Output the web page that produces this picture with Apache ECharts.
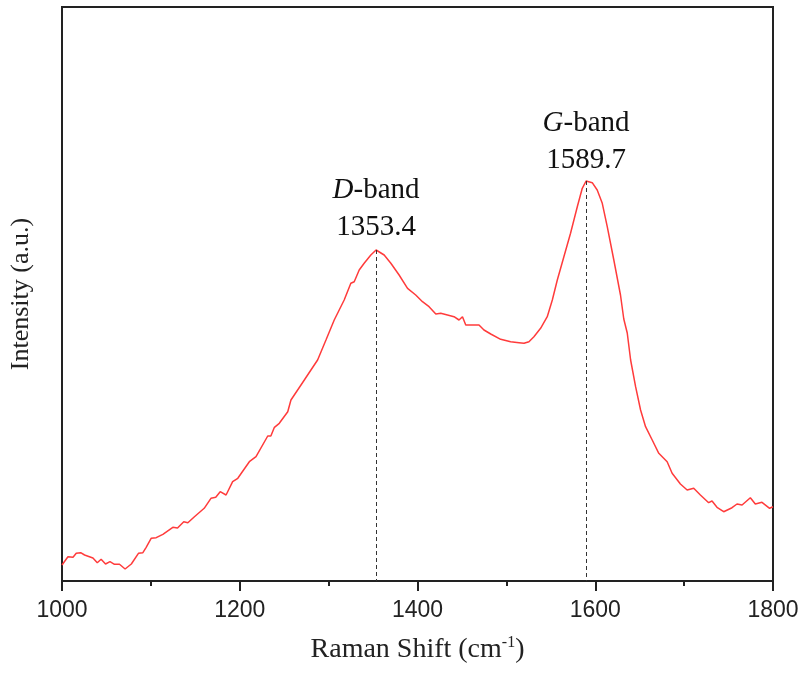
<!DOCTYPE html>
<html>
<head>
<meta charset="utf-8">
<script src="https://cdn.jsdelivr.net/npm/echarts@6/dist/echarts.min.js"></script>
<style>
html,body{margin:0;padding:0;background:#fff;}
#chart{width:804px;height:677px;}
</style>
</head>
<body>
<div id="chart"></div>
<script>
// Raman shift (cm^-1) and intensity (a.u.)
var ramanShift = [1000,1006.7,1012.4,1016,1021,1025.4,1034.8,1039.7,1044,1049,1054,1059,1064.7,1071,1078,1086,1091,1094.7,1100.3,1106,1113.5,1124.7,1130,1137,1141.6,1149,1160,1167.6,1173,1178,1184.6,1192,1197.8,1210.8,1218.3,1231.5,1235,1239,1244.5,1254,1257.6,1268.9,1280.1,1287.6,1297,1306.3,1317.5,1325,1328.8,1334.4,1340,1347.5,1353.4,1362.5,1370,1379.3,1388.8,1398,1405.6,1413,1420.6,1426.2,1433.7,1441.1,1446.7,1450.6,1454.3,1463.6,1469.2,1474.8,1482.4,1493.6,1504.8,1514.2,1519.8,1525.4,1531,1538.5,1546,1551.7,1557.3,1564.7,1572.2,1579.8,1585.4,1589.7,1596.6,1602.2,1607.9,1613.5,1620.9,1628.4,1632.1,1636,1639.8,1645.4,1651,1656.6,1664.1,1671.5,1680.9,1686.5,1695.8,1703.4,1710.8,1718.3,1727.6,1731.4,1737,1744.5,1753.9,1759.5,1765.2,1774.5,1780.1,1787.6,1796.2,1800];
var intensity = [16,24.3,23.7,27.7,28.3,26,23,18.3,21.7,17,19.3,16.7,16.7,12,17,27.7,28.3,33.7,42.7,43.3,46.7,53.7,53,59.3,58.3,64.3,72.7,82.7,83.7,89.3,86,99.3,102.7,119.3,124.3,145,145,153.7,157.7,169.3,181,196,211,221,241,261,281,297.7,299.3,311,317.7,326,331,326,317.7,306,292.7,286,279.3,274.3,267,267.7,266,264.3,261,264.3,256,256,256,251,247,241.7,239.3,238.3,237.7,239.3,244.3,252.7,264.3,281,301,324.3,347.7,374.3,392.7,400,398.3,391,377.7,354.3,321,286,262,248,221,194.3,171,154.3,141,127.7,119.3,107.7,97,91,92.7,86,78.3,80,73.7,69.3,73.3,77,76,83.3,77,78.7,72.7,74.3];
var peakNames = ['D', 'G'];
var peakShift = [1353.4, 1589.7];
var peakIntensity = [331, 400];
var xTicks = {min: 1000, max: 1800, interval: 200};
var xTitle = 'Raman Shift (cm';
var yTitle = 'Intensity (a.u.)';

var seriesData = ramanShift.map(function (x, i) { return [x, intensity[i]]; });
var serif = '"Liberation Serif", "Times New Roman", serif';
var sans = '"Liberation Sans", Arial, sans-serif';

var markPoints = peakNames.map(function (n, i) {
  return {
    coord: [peakShift[i], peakIntensity[i]],
    label: {
      formatter: '{i|' + n + '}{t|-band}\n{t|' + peakShift[i].toFixed(1) + '}',
      offset: [0, i === 0 ? 1 : 3]
    }
  };
});
var markLines = peakShift.map(function (x, i) {
  return [{coord: [x, peakIntensity[i]]}, {coord: [x, 0]}];
});

var chart = echarts.init(document.getElementById('chart'), null, {renderer: 'canvas'});
chart.setOption({
  animation: false,
  backgroundColor: '#ffffff',
  grid: {left: 60, right: 31, top: 7, bottom: 96, show: true, borderColor: '#222', borderWidth: 2, containLabel: false},
  xAxis: {
    type: 'value', min: xTicks.min, max: xTicks.max, interval: xTicks.interval,
    axisLine: {show: true, lineStyle: {color: '#222', width: 2}},
    axisTick: {show: true, inside: false, length: 10, lineStyle: {color: '#222', width: 2}},
    minorTick: {show: true, splitNumber: 2, length: 5, lineStyle: {color: '#222', width: 2}},
    splitLine: {show: false},
    axisLabel: {color: '#222', fontFamily: sans, fontSize: 23, margin: 18, formatter: function (v) { return String(v); }},
    name: xTitle + '{sup|-1})', nameLocation: 'middle', nameGap: 54,
    nameTextStyle: {color: '#222', fontFamily: serif, fontSize: 28,
      rich: {sup: {fontFamily: serif, fontSize: 16, verticalAlign: 'top', padding: [0, 0, 14, 0], color: '#222'}}}
  },
  yAxis: {
    type: 'value', min: 0, max: 574,
    axisLine: {show: true, lineStyle: {color: '#222', width: 2}},
    axisTick: {show: false}, axisLabel: {show: false}, splitLine: {show: false},
    name: yTitle, nameLocation: 'middle', nameGap: 28, nameRotate: 90,
    nameTextStyle: {color: '#222', fontFamily: serif, fontSize: 26}
  },
  series: [{
    type: 'line', data: seriesData, showSymbol: false, symbol: 'none',
    lineStyle: {color: '#ff3b3b', width: 1.5},
    markLine: {
      silent: true, symbol: ['none', 'none'], label: {show: false},
      lineStyle: {color: '#333', width: 1, type: [4, 3]},
      data: markLines
    },
    markPoint: {
      silent: true, symbol: 'circle', symbolSize: 0,
      label: {show: true, position: 'top', color: '#111', lineHeight: 37,
        rich: {
          i: {fontFamily: serif, fontSize: 29, fontStyle: 'italic', color: '#111', lineHeight: 37},
          t: {fontFamily: serif, fontSize: 29, color: '#111', lineHeight: 37}
        }},
      data: markPoints
    }
  }]
});
</script>
</body>
</html>
